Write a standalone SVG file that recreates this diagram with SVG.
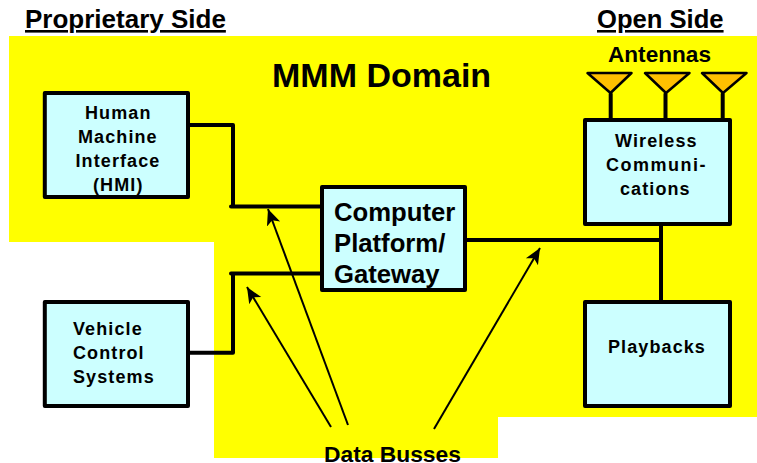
<svg xmlns="http://www.w3.org/2000/svg" width="757" height="463" viewBox="0 0 757 463">
<style>
text{font-family:"Liberation Sans",Arial,sans-serif;font-weight:700;fill:#000}
.box{fill:#ccffff;stroke:#000;stroke-width:4;stroke-linejoin:round}
.wire{fill:none;stroke:#000;stroke-width:4;stroke-linejoin:round;stroke-linecap:round}
.ptr{fill:none;stroke:#000;stroke-width:2}
.ant{fill:#ffc000;stroke:#000;stroke-width:2.500;stroke-linejoin:round}
.n{font-size:18px;letter-spacing:1.100px}
.h{font-size:26px;text-decoration:underline}
.c{font-size:25.700px}
</style>
<defs>
<marker id="arrow" markerUnits="userSpaceOnUse" markerWidth="20" markerHeight="20" refX="16" refY="8" orient="auto" viewBox="0 0 20 16">
<path d="M0 1L16 8L0 15L4 8Z" fill="#000"/>
</marker>
</defs>
<path id="domain" d="M9 36H757V417H498V458H214V242H9Z" fill="#ffff00"/>
<text class="h" x="25" y="28">Proprietary Side</text>
<text class="h" x="597" y="28" style="font-size:25.600px">Open Side</text>
<text x="272" y="87" font-size="34">MMM Domain</text>
<text x="608" y="62" font-size="22.600">Antennas</text>
<g id="connectors">
<path class="wire" d="M190 125H233V206.500H231M231 206.500H320"/>
<path class="wire" d="M190 352.700H233V273.500H231M231 273.500H320"/>
<path class="wire" d="M467 240H661M661 226V300"/>
<path class="ptr" marker-end="url(#arrow)" d="M348 425L268 209"/>
<path class="ptr" marker-end="url(#arrow)" d="M331 427L247 287"/>
<path class="ptr" marker-end="url(#arrow)" d="M434 429L540 248"/>
</g>
<g id="antenna1"><path class="wire" d="M610.700 94V118"/><path class="ant" d="M587.500 73H631.500L610.500 93Z"/></g>
<g id="antenna2"><path class="wire" d="M665.500 94V118"/><path class="ant" d="M645 73H689.500L666 93Z"/></g>
<g id="antenna3"><path class="wire" d="M722.700 94V118"/><path class="ant" d="M702 73H746.500L723 93Z"/></g>
<g id="hmi"><rect class="box" x="44.800" y="93" width="143.200" height="104"/>
<text class="n" x="85" y="119">Human</text><text class="n" x="78" y="143">Machine</text><text class="n" x="75.500" y="167">Interface</text><text class="n" x="93" y="191">(HMI)</text></g>
<g id="vcs"><rect class="box" x="44.800" y="302" width="143.200" height="104"/>
<text class="n" x="73" y="335">Vehicle</text><text class="n" x="73" y="359">Control</text><text class="n" x="73" y="383">Systems</text></g>
<g id="platform"><rect class="box" x="322" y="187" width="143" height="103"/>
<text class="c" x="334" y="221">Computer</text><text class="c" x="334" y="252">Platform/</text><text class="c" x="334" y="283">Gateway</text></g>
<g id="wireless"><rect class="box" x="585" y="120" width="145" height="104"/>
<text class="n" x="615" y="147">Wireless</text><text class="n" x="606" y="171" style="letter-spacing:1.500px">Communi-</text><text class="n" x="620" y="195">cations</text></g>
<g id="playbacks"><rect class="box" x="585" y="302" width="145" height="104"/>
<text class="n" x="608" y="353">Playbacks</text></g>
<text x="324" y="461.500" font-size="22.800">Data Busses</text>
</svg>
